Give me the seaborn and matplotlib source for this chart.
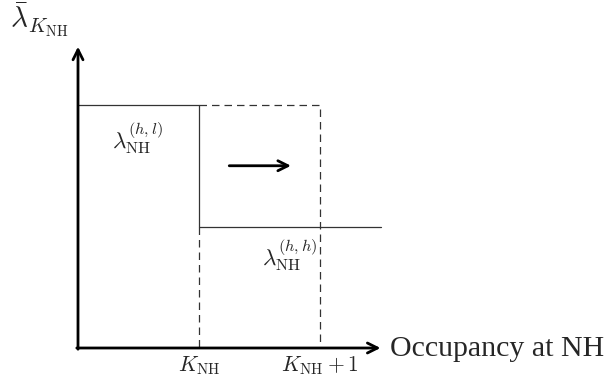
import numpy as np
import pandas as pd
import seaborn as sns
import matplotlib.pyplot as plt

# step levels of the arrival rate and the two thresholds on the x axis
thresholds = [1, 2]
tick_labels = [r'$K_{\mathrm{NH}}$', r'$K_{\mathrm{NH}}+1$']
rate_high = 2
rate_low = 1
x_end = 2.5

# solid curve: current threshold, dashed: threshold shifted by one
solid_x = [0, thresholds[0], thresholds[0], x_end]
solid_y = [rate_high, rate_high, rate_low, rate_low]
dash_top_x = [thresholds[0], thresholds[1], thresholds[1]]
dash_top_y = [rate_high, rate_high, 0]
dash_left_x = [thresholds[0], thresholds[0]]
dash_left_y = [rate_low, 0]

sns.set_style('white')
plt.rcParams['font.family'] = ['Liberation Serif', 'DejaVu Serif']
plt.rcParams['mathtext.fontset'] = 'cm'

fig = plt.figure(figsize=(6.08, 3.8), dpi=100)
ax = fig.add_axes([0, 0, 1, 1])

solid = pd.DataFrame({'x': solid_x, 'y': solid_y})
sns.lineplot(data=solid, x='x', y='y', sort=False, estimator=None, errorbar=None,
             color='#333333', lw=0.9, ax=ax)
for xs, ys in [(dash_top_x, dash_top_y), (dash_left_x, dash_left_y)]:
    sns.lineplot(x=xs, y=ys, sort=False, estimator=None, errorbar=None,
                 color='#333333', lw=0.9, ax=ax, linestyle=(0, (6, 4)))

arrow = dict(arrowstyle='->', lw=2, color='black', shrinkA=0, shrinkB=0,
             mutation_scale=18)
# axes with arrow heads
ax.annotate('', xy=(0, 2.48), xytext=(0, -0.01), arrowprops=arrow)
ax.annotate('', xy=(x_end, 0), xytext=(-0.01, 0), arrowprops=arrow)
# shift arrow
ax.annotate('', xy=(1.76, 1.5), xytext=(1.25, 1.5), arrowprops=arrow)

for xt, lab in zip(thresholds, tick_labels):
    ax.text(xt, -0.05, lab, ha='center', va='top', fontsize=15.5)

ax.text(0.49, 1.73, r'$\lambda_{\mathrm{NH}}^{(h,l)}$', ha='center', va='center', fontsize=16.7)
ax.text(1.75, 0.77, r'$\lambda_{\mathrm{NH}}^{(h,h)}$', ha='center', va='center', fontsize=16.7)
ax.text(-0.56, 2.70, r'$\bar{\lambda}_{K_{\mathrm{NH}}}$', ha='left', va='center', fontsize=21)
ax.text(2.58, -0.01, 'Occupancy at NH', ha='left', va='center', fontsize=21.5)

ax.set_xlim(-78 / 121, 530 / 121)
ax.set_ylim(-32 / 121.5, 348 / 121.5)
ax.axis('off')

fig.savefig('out.png', dpi=100)
